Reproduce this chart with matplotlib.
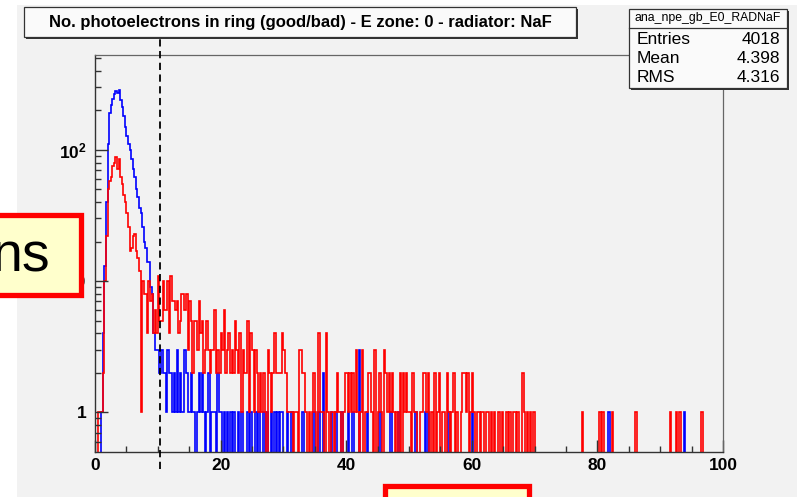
import numpy as np
import matplotlib
matplotlib.use("Agg")
import matplotlib.pyplot as plt
from matplotlib.patches import Rectangle
from matplotlib.ticker import FixedLocator, FixedFormatter, MultipleLocator

plt.rcParams['font.family'] = ['Liberation Sans', 'DejaVu Sans']
plt.rcParams['mathtext.fontset'] = 'custom'
plt.rcParams['mathtext.rm'] = 'Liberation Sans'
plt.rcParams['mathtext.bf'] = 'Liberation Sans:bold'

# histogram binning: 400 bins of 0.25 between 0 and 100
bin_width = 0.25
n_bins = 400

# counts per bin for x in [0, 12)
good_peak = [0, 0, 0, 0, 1, 4, 13, 40, 110, 190, 220, 245,
             265, 280, 270, 285, 240, 210, 180, 150, 128, 110, 100, 85,
             72, 62, 50, 44, 36, 33, 26, 20, 18, 14, 14, 9,
             8, 4, 3, 3, 3, 2, 3, 2, 2, 1, 3, 2]
bad_peak = [0, 0, 1, 1, 1, 2, 10, 22, 50, 58, 62, 75,
            80, 88, 72, 85, 62, 55, 45, 40, 33, 26, 17, 18,
            22, 23, 17, 15, 12, 1, 10, 8, 8, 4, 10, 7,
            8, 4, 6, 4, 11, 5, 5, 10, 6, 6, 10, 4]

# non-empty bins above x = 12 (bin low edge, count)
good_tail_x = [12.0, 12.25, 12.5, 12.75, 13.0, 13.25, 13.5, 13.75, 14.0, 14.25,
               14.5, 14.75, 15.0, 15.25, 15.5, 15.75, 16.25, 16.5, 16.75, 17.0,
               17.25, 17.75, 18.0, 18.5, 18.75, 19.0, 19.5, 19.75, 20.0, 20.5,
               21.0, 21.5, 22.0, 22.75, 23.25, 24.25, 24.75, 25.5, 26.0, 26.75,
               27.25, 28.0, 28.5, 29.0, 29.5, 29.75, 30.5, 31.25, 33.0, 34.75,
               35.5, 36.25, 37.5, 38.25, 39.25, 40.25, 41.0, 42.0, 43.25, 45.25,
               47.0, 48.25, 51.0, 52.5, 53.0, 56.25, 60.0, 81.75, 93.75]
good_tail_n = [2, 1, 2, 1, 3, 1, 2, 1, 1, 3,
               2, 1, 1, 2, 1, 1, 1, 2, 1, 2,
               1, 1, 2, 1, 1, 1, 2, 1, 1, 1,
               1, 1, 1, 1, 1, 1, 1, 1, 1, 1,
               1, 1, 1, 1, 1, 1, 1, 1, 1, 1,
               1, 2, 1, 1, 1, 1, 1, 3, 1, 1,
               1, 1, 1, 1, 1, 1, 1, 1, 1]

bad_tail_x = [12.0, 12.25, 12.5, 12.75, 13.0, 13.25, 13.5, 13.75, 14.0, 14.25,
              14.5, 14.75, 15.0, 15.25, 15.5, 15.75, 16.0, 16.25, 16.5, 16.75,
              17.0, 17.25, 17.5, 17.75, 18.0, 18.25, 18.5, 18.75, 19.0, 19.25,
              19.5, 19.75, 20.0, 20.25, 20.5, 20.75, 21.0, 21.25, 21.5, 21.75,
              22.0, 22.25, 22.5, 22.75, 23.0, 23.25, 23.5, 23.75, 24.0, 24.25,
              24.5, 24.75, 25.0, 25.25, 25.5, 25.75, 26.0, 26.25, 26.5, 26.75,
              27.0, 27.5, 27.75, 28.0, 28.25, 28.5, 28.75, 29.0, 29.25, 29.5,
              29.75, 30.0, 30.25, 30.5, 30.75, 31.0, 31.25, 31.75, 32.0, 32.5,
              32.75, 33.0, 33.25, 33.5, 34.0, 34.5, 34.75, 35.0, 35.5, 35.75,
              36.0, 36.25, 36.75, 37.0, 37.5, 37.75, 38.25, 38.5, 38.75, 39.0,
              39.5, 39.75, 40.0, 40.25, 40.5, 40.75, 41.0, 41.25, 41.5, 41.75,
              42.25, 42.5, 43.0, 43.25, 43.5, 43.75, 44.0, 44.5, 45.0, 45.25,
              45.5, 46.0, 46.25, 46.5, 46.75, 47.0, 47.25, 47.5, 48.0, 48.5,
              49.0, 49.25, 49.5, 49.75, 50.0, 50.5, 50.75, 51.0, 51.75, 52.0,
              52.25, 52.5, 52.75, 53.0, 53.5, 54.0, 54.5, 54.75, 55.25, 55.5,
              56.0, 56.25, 56.75, 57.0, 57.5, 58.25, 58.5, 58.75, 59.0, 59.25,
              59.75, 60.0, 60.25, 60.75, 61.0, 61.5, 61.75, 62.25, 62.5, 63.0,
              63.5, 64.25, 64.75, 65.5, 66.0, 66.5, 66.75, 67.25, 68.0, 68.25,
              68.75, 69.25, 69.75, 77.5, 80.25, 80.75, 82.25, 86.0, 91.5, 92.5,
              93.0, 96.5]
bad_tail_n = [11, 7, 7, 6, 7, 4, 5, 8, 8, 6,
              8, 3, 7, 5, 2, 5, 5, 3, 7, 4,
              5, 2, 3, 5, 3, 2, 3, 3, 6, 2,
              3, 2, 4, 3, 6, 2, 3, 4, 2, 3,
              2, 5, 3, 2, 4, 1, 3, 2, 2, 5,
              1, 4, 3, 1, 3, 2, 1, 2, 1, 2,
              1, 3, 2, 1, 2, 4, 2, 2, 2, 2,
              4, 3, 2, 1, 1, 1, 1, 1, 1, 3,
              3, 2, 2, 1, 1, 1, 2, 1, 4, 1,
              1, 1, 4, 1, 1, 1, 1, 2, 1, 1,
              1, 2, 2, 1, 2, 1, 2, 1, 3, 1,
              1, 3, 1, 1, 2, 2, 1, 3, 1, 2,
              1, 3, 2, 1, 2, 1, 2, 1, 1, 2,
              2, 1, 2, 1, 1, 2, 1, 1, 1, 1,
              2, 2, 1, 2, 1, 2, 1, 2, 1, 1,
              2, 1, 1, 2, 1, 1, 2, 2, 1, 2,
              1, 2, 1, 1, 1, 1, 1, 1, 1, 1,
              1, 1, 1, 1, 1, 1, 1, 1, 2, 1,
              1, 1, 1, 1, 1, 1, 1, 1, 1, 1,
              1, 1]

cut_value = 10.4

title = "No. photoelectrons in ring (good/bad) - E zone: 0 - radiator: NaF"
stats_name = "ana_npe_gb_E0_RADNaF"
stats_labels = ["Entries", "Mean", "RMS"]
stats_values = ["4018", "4.398", "4.316"]


def fill_hist(peak, tail_x, tail_n):
    h = np.zeros(n_bins)
    h[:len(peak)] = peak
    for x, n in zip(tail_x, tail_n):
        h[int(round(x / bin_width))] = n
    return h


W, H = 797, 497
fig = plt.figure(figsize=(W / 100, H / 100), dpi=100)
fig.patch.set_facecolor('white')


def rect(x0, y0, x1, y1, **kw):
    r = Rectangle((x0 / W, 1 - y1 / H), (x1 - x0) / W, (y1 - y0) / H,
                  transform=fig.transFigure, **kw)
    fig.add_artist(r)
    return r


def ftext(px, py, s, **kw):
    fig.text(px / W, 1 - py / H, s, **kw)


# canvas
rect(17, 5, 800, 500, facecolor='#f2f2f2', edgecolor='none', zorder=0)

ax = fig.add_axes([95 / W, 1 - 452 / H, (723 - 95) / W, (452 - 55) / H])
ax.set_facecolor('#f2f2f2')
edges = np.arange(n_bins + 1) * bin_width
good = fill_hist(good_peak, good_tail_x, good_tail_n)
bad = fill_hist(bad_peak, bad_tail_x, bad_tail_n)
ax.stairs(np.where(good > 0, good, 1e-2), edges, color='#0000ff', lw=1.2, baseline=None)
ax.stairs(np.where(bad > 0, bad, 1e-2), edges, color='#ff0000', lw=1.2, baseline=None)
ax.set_yscale('log')
ax.set_xlim(0, 100)
ax.set_ylim(0.5, 527)

ax.vlines(cut_value, 0.37, 724, colors='black', lw=1.3,
          linestyles=(0, (4, 2.5)), clip_on=False, zorder=5)

for s in ['top', 'right']:
    ax.spines[s].set_color('#666666')
    ax.spines[s].set_linewidth(0.9)
for s in ['left', 'bottom']:
    ax.spines[s].set_color('#333333')
    ax.spines[s].set_linewidth(1.0)

ax.xaxis.set_major_locator(MultipleLocator(20))
ax.xaxis.set_minor_locator(MultipleLocator(5))
ax.yaxis.set_major_locator(FixedLocator([1, 10, 100]))
ax.yaxis.set_major_formatter(FixedFormatter(['1', '10', r'$\mathbf{10^{2}}$']))
ax.yaxis.set_minor_locator(FixedLocator([0.6, 0.7, 0.8, 0.9] +
                                        [k for k in range(2, 10)] +
                                        [10 * k for k in range(2, 10)] +
                                        [100 * k for k in range(2, 6)]))
ax.yaxis.set_minor_formatter(FixedFormatter([]))
ax.tick_params(which='both', direction='in', top=False, right=False, colors='#333333')
ax.tick_params(which='major', length=9, width=1.0, labelsize=12.5, pad=4)
ax.tick_params(which='minor', length=4.5, width=1.0)
ax.tick_params(axis='y', which='major', pad=6)
for lab in ax.get_xticklabels() + ax.get_yticklabels():
    lab.set_fontweight('bold')
    lab.set_color('black')

# title box
rect(25.5, 9.5, 577.5, 38.5, facecolor='#333333', edgecolor='none', zorder=4)
rect(23.5, 7.5, 575.5, 36.5, facecolor='#fafafa', edgecolor='#333333', lw=0.9, zorder=4)
ftext(300, 22.5, title, ha='center', va='center', fontsize=12, fontweight='bold', zorder=6)

# stats box
rect(631, 11, 789, 90, facecolor='#333333', edgecolor='none', zorder=4)
rect(629, 9, 787, 88, facecolor='#fafafa', edgecolor='#333333', lw=0.9, zorder=4)
fig.add_artist(plt.Line2D([629 / W, 787 / W], [1 - 28 / H, 1 - 28 / H],
                          transform=fig.transFigure, color='#333333', lw=0.9, zorder=5))
ftext(708, 18.5, stats_name, ha='center', va='center', fontsize=8.8, zorder=6)
for i, (lab, val) in enumerate(zip(stats_labels, stats_values)):
    y = 39 + i * 19.5
    ftext(637, y, lab, ha='left', va='center', fontsize=12.5, zorder=6)
    ftext(780, y, val, ha='right', va='center', fontsize=12.5, zorder=6)

# overlay callout boxes
rect(-10, 214.5, 80.5, 295, facecolor='#ffffcc', edgecolor='#ff0000', lw=3.8, zorder=7)
ftext(50, 272, "ns", ha='right', va='baseline', fontsize=40, zorder=8)
rect(384.5, 485.5, 529, 520, facecolor='#ffffcc', edgecolor='#ff0000', lw=3.8, zorder=7)

fig.savefig('out.png', dpi=100)
